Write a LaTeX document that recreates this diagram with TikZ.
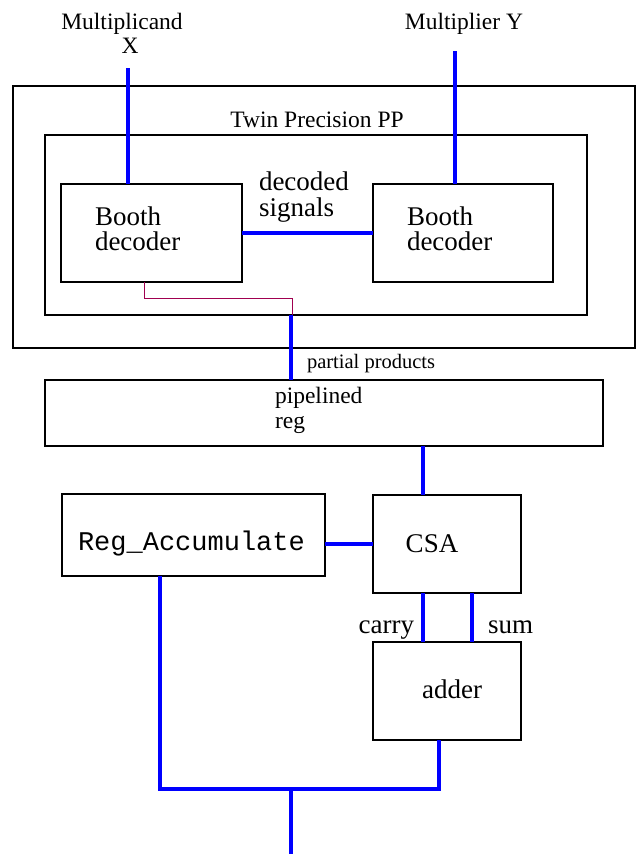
\documentclass[tikz,border=0pt]{standalone}
\usepackage{fontspec}
\setmainfont{Liberation Serif}
\setmonofont{Liberation Mono}
\definecolor{wireblue}{RGB}{0,0,255}
\definecolor{wirered}{RGB}{160,0,80}
\begin{document}
\begin{tikzpicture}[x=1pt,y=-1pt,
  box/.style={draw=black,line width=1.2pt,inner sep=0pt,outer sep=0pt},
  bus/.style={draw=wireblue,line width=4pt},
  thinwire/.style={draw=wirered,line width=1pt},
  lbl/.style={inner sep=0pt,outer sep=0pt},
  big/.style={lbl,font=\fontsize{27}{25}\selectfont},
  mid/.style={lbl,font=\fontsize{23.5}{24}\selectfont},
  small/.style={lbl,font=\fontsize{20.5}{22}\selectfont},
  mono/.style={lbl,font=\ttfamily\fontsize{27}{27}\selectfont},
]
\useasboundingbox (0,0) rectangle (637,854);

% boxes
\node[box,minimum width=622pt,minimum height=262pt] (outer) at (324,217) {};
\node[box,minimum width=542pt,minimum height=180pt] (inner) at (316,225) {};
\node[box,minimum width=181pt,minimum height=98pt] (boothL) at (151.5,233) {};
\node[box,minimum width=180pt,minimum height=98pt] (boothR) at (463,233) {};
\node[box,minimum width=558pt,minimum height=66pt] (pipe) at (324,413) {};
\node[box,minimum width=263pt,minimum height=82pt] (acc) at (193.5,535) {};
\node[box,minimum width=148pt,minimum height=98pt] (csa) at (447,544) {};
\node[box,minimum width=148pt,minimum height=98pt] (adder) at (447,691) {};

% labels
\node[mid,anchor=base] (tMul) at (122,29) {Multiplicand};
\node[mid,anchor=base] (tX) at (130,53) {X};
\node[mid,anchor=base] (tMulY) at (464,29) {Multiplier Y};
\node[mid,anchor=base] (tTwin) at (317,127) {Twin Precision PP};
\node[big,anchor=base west] (tB1) at (95,225) {Booth};
\node[big,anchor=base west] (tD1) at (95,250) {decoder};
\node[big,anchor=base west] (tB2) at (407,225) {Booth};
\node[big,anchor=base west] (tD2) at (407,250) {decoder};
\node[big,anchor=base west] (tDec) at (259,190) {decoded};
\node[big,anchor=base west] (tSig) at (259,216) {signals};
\node[small,anchor=base west] (tPP) at (307,368) {partial products};
\node[mid,anchor=base west] (tPipe) at (275,403) {pipelined};
\node[mid,anchor=base west] (tReg) at (275,428) {reg};
\node[mono,anchor=base west] (tAcc) at (78,550) {Reg\_Accumulate};
\node[big,anchor=base] (tCSA) at (432,552) {CSA};
\node[big,anchor=base east] (tCarry) at (414,633) {carry};
\node[big,anchor=base west] (tSum) at (488,633) {sum};
\node[big,anchor=base] (tAdder) at (452,698) {adder};

% coordinates for free ends and bends
\coordinate (inX) at (127.5,68);
\coordinate (inY) at (455,51);
\coordinate (rA) at (144,298);
\coordinate (rB) at (292,298);
\coordinate (ppX) at (291,0);
\coordinate (cX) at (422.5,0);
\coordinate (sX) at (472,0);
\coordinate (outR) at (439,789);
\coordinate (outL) at (160,789);
\coordinate (junc) at (291,789);
\coordinate (outEnd) at (291,854);

% connectors
\draw[bus] (inX) -- (inX |- boothL.north);
\draw[bus] (inY) -- (inY |- boothR.north);
\draw[bus] (boothL.east) -- (boothR.west);
\draw[thinwire] (rA |- boothL.south) -- (rA) -- (rB) -- (rB |- inner.south);
\draw[bus] (inner.south -| ppX) -- (pipe.north -| ppX);
\draw[bus] (pipe.south -| cX) -- (csa.north -| cX);
\draw[bus] (csa.west -| acc.east) -- (csa.west);
\draw[bus] (csa.south -| cX) -- (adder.north -| cX);
\draw[bus] (csa.south -| sX) -- (adder.north -| sX);
\draw[bus] (adder.south -| outR) -- (outR) -- (outL) -- (acc.south -| outL);
\draw[bus] (junc) -- (outEnd);
\end{tikzpicture}
\end{document}
